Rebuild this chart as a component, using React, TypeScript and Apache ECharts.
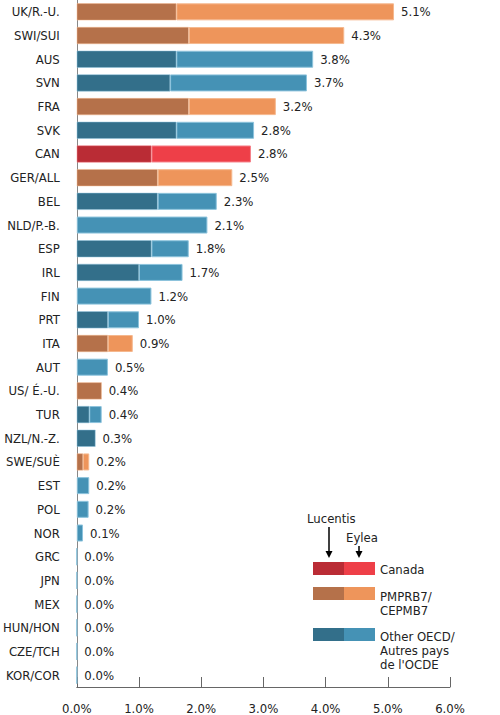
import React, { useEffect, useRef } from "react";
import * as echarts from "echarts";

const categories = ["UK/R.-U.", "SWI/SUI", "AUS", "SVN", "FRA", "SVK", "CAN", "GER/ALL", "BEL", "NLD/P.-B.", "ESP", "IRL", "FIN", "PRT", "ITA", "AUT", "US/ É.-U.", "TUR", "NZL/N.-Z.", "SWE/SUÈ", "EST", "POL", "NOR", "GRC", "JPN", "MEX", "HUN/HON", "CZE/TCH", "KOR/COR"];
const groups = ["p", "p", "o", "o", "p", "o", "c", "p", "o", "o", "o", "o", "o", "o", "p", "o", "p", "o", "o", "p", "o", "o", "o", "o", "o", "o", "o", "o", "o"];
const lucentis = [1.6, 1.8, 1.6, 1.5, 1.8, 1.6, 1.2, 1.3, 1.3, 0, 1.2, 1.0, 0, 0.5, 0.5, 0, 0.4, 0.2, 0.3, 0.1, 0, 0, 0, 0, 0, 0, 0, 0, 0];
const eylea = [3.5, 2.5, 2.2, 2.2, 1.4, 1.25, 1.6, 1.2, 0.95, 2.1, 0.6, 0.7, 1.2, 0.5, 0.4, 0.5, 0, 0.2, 0, 0.1, 0.2, 0.19, 0.1, 0, 0, 0, 0, 0, 0];
const totalLabels = ["5.1%", "4.3%", "3.8%", "3.7%", "3.2%", "2.8%", "2.8%", "2.5%", "2.3%", "2.1%", "1.8%", "1.7%", "1.2%", "1.0%", "0.9%", "0.5%", "0.4%", "0.4%", "0.3%", "0.2%", "0.2%", "0.2%", "0.1%", "0.0%", "0.0%", "0.0%", "0.0%", "0.0%", "0.0%"];
const xTicks = [0, 1, 2, 3, 4, 5, 6];

const palette: Record<string, { dark: string; light: string; border: string }> = {
  c: { dark: "#BA2C35", light: "#EE3F48", border: "#F58088" },
  p: { dark: "#B5714A", light: "#EE955B", border: "#F5B88E" },
  o: { dark: "#336F8A", light: "#4592B5", border: "#8CC3DC" },
};

const FONT = "'Liberation Sans Narrow', 'DejaVu Sans Condensed', 'Roboto', sans-serif";

export default function App() {
  const ref = useRef<HTMLDivElement>(null);
  useEffect(() => {
    if (!ref.current) return;
    const chart = echarts.init(ref.current, undefined, { renderer: "svg" });
    const legendText = (x: number, y: number, text: string, va: string = "middle") => ({
      type: "text",
      x,
      y,
      style: { text, fill: "#222", font: `13px ${FONT}`, lineHeight: 14, textVerticalAlign: va },
    });
    chart.setOption({
      animation: false,
      textStyle: { fontFamily: FONT },
      grid: { left: 74, right: 50, top: -3, bottom: 26, containLabel: false },
      xAxis: {
        type: "value",
        min: 0,
        max: 6,
        interval: 1,
        axisLine: { show: true, lineStyle: { color: "#666", width: 1 } },
        axisTick: { show: true, inside: true, length: 10, lineStyle: { color: "#666" } },
        splitLine: { show: false },
        axisLabel: {
          formatter: (v: number) => (xTicks.includes(v) ? `${v.toFixed(1)}%` : ""),
          color: "#222",
          fontSize: 13,
          fontFamily: FONT,
          margin: 15,
        },
      },
      yAxis: {
        type: "category",
        data: categories,
        inverse: true,
        axisLine: { show: true, lineStyle: { color: "#888", width: 1 } },
        axisTick: { show: false },
        axisLabel: { color: "#222", fontSize: 13, fontFamily: FONT, margin: 17 },
      },
      series: [
        {
          name: "Lucentis",
          type: "bar",
          stack: "total",
          barWidth: 17,
          data: lucentis.map((v, i) => ({
            value: v,
            itemStyle: { color: palette[groups[i]].dark, borderColor: palette[groups[i]].border, borderWidth: v > 0 ? 0.5 : 0 },
          })),
        },
        {
          name: "Eylea",
          type: "bar",
          stack: "total",
          barWidth: 17,
          data: eylea.map((v, i) => ({
            value: v,
            itemStyle: { color: palette[groups[i]].light, borderColor: palette[groups[i]].border, borderWidth: v > 0 || lucentis[i] === 0 ? 1 : 0 },
          })),
          label: {
            show: true,
            position: "right",
            distance: 7,
            color: "#222",
            fontSize: 13,
            fontFamily: FONT,
            formatter: (p: any) => totalLabels[p.dataIndex],
          },
        },
      ],
      graphic: [
        legendText(307, 518, "Lucentis"),
        { type: "line", shape: { x1: 329, y1: 527, x2: 329, y2: 556 }, style: { stroke: "#000", lineWidth: 1.5 } },
        { type: "polygon", shape: { points: [[325.5, 551], [332.5, 551], [329, 558]] }, style: { fill: "#000" } },
        legendText(346, 537, "Eylea"),
        { type: "line", shape: { x1: 359, y1: 546, x2: 359, y2: 556 }, style: { stroke: "#000", lineWidth: 1.5 } },
        { type: "polygon", shape: { points: [[355.5, 551], [362.5, 551], [359, 558]] }, style: { fill: "#000" } },
        { type: "rect", shape: { x: 313, y: 562, width: 31, height: 13 }, style: { fill: palette.c.dark } },
        { type: "rect", shape: { x: 344, y: 562, width: 31, height: 13 }, style: { fill: palette.c.light } },
        legendText(380, 569, "Canada"),
        { type: "rect", shape: { x: 313, y: 587, width: 31, height: 13 }, style: { fill: palette.p.dark } },
        { type: "rect", shape: { x: 344, y: 587, width: 31, height: 13 }, style: { fill: palette.p.light } },
        legendText(380, 589, "PMPRB7/\nCEPMB7", "top"),
        { type: "rect", shape: { x: 313, y: 628, width: 31, height: 13 }, style: { fill: palette.o.dark } },
        { type: "rect", shape: { x: 344, y: 628, width: 31, height: 13 }, style: { fill: palette.o.light } },
        legendText(380, 629, "Other OECD/\nAutres pays\nde l'OCDE", "top"),
      ],
    });
    return () => chart.dispose();
  }, []);
  return <div ref={ref} style={{ position: "absolute", left: 0, top: 0, width: 500, height: 715 }} />;
}
